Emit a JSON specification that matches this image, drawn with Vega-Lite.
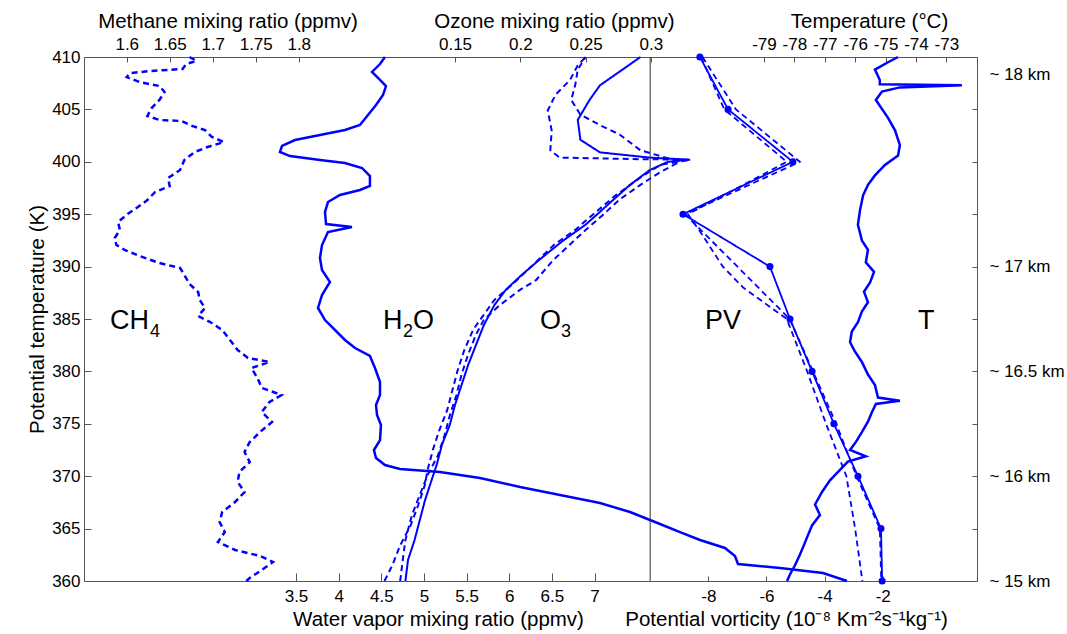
{
  "$schema": "https://vega.github.io/schema/vega-lite/v6.json",
  "width": 893,
  "height": 524,
  "autosize": {"type": "none"},
  "padding": {"left": 84, "top": 57, "right": 90, "bottom": 53},
  "background": "white",
  "config": {
    "font": "Liberation Sans",
    "view": {"stroke": "#555555", "strokeWidth": 1},
    "axis": {
      "domain": false, "grid": false, "tickColor": "#555555", "tickWidth": 1,
      "labelColor": "#000000", "titleColor": "#000000",
      "labelFont": "Liberation Sans", "titleFont": "Liberation Sans",
      "labelFontSize": 17, "titleFontSize": 20.5, "titleFontWeight": "normal",
      "labelFlush": false, "labelOverlap": false,
      "labelExpr": "'' + datum.value"
    }
  },
  "datasets": {
    "ch4": [
      {"theta": 410.0, "ch4": 1.673}, {"theta": 409.62, "ch4": 1.681}, {"theta": 409.33, "ch4": 1.669}, {"theta": 408.85, "ch4": 1.665},
      {"theta": 408.66, "ch4": 1.627}, {"theta": 408.47, "ch4": 1.604}, {"theta": 408.09, "ch4": 1.6}, {"theta": 407.61, "ch4": 1.615},
      {"theta": 407.23, "ch4": 1.638}, {"theta": 406.66, "ch4": 1.644}, {"theta": 405.9, "ch4": 1.638}, {"theta": 405.13, "ch4": 1.629},
      {"theta": 404.37, "ch4": 1.624}, {"theta": 403.99, "ch4": 1.638}, {"theta": 403.89, "ch4": 1.664}, {"theta": 403.42, "ch4": 1.676},
      {"theta": 403.03, "ch4": 1.691}, {"theta": 402.37, "ch4": 1.699}, {"theta": 401.89, "ch4": 1.713}, {"theta": 401.41, "ch4": 1.694},
      {"theta": 400.94, "ch4": 1.679}, {"theta": 400.17, "ch4": 1.667}, {"theta": 399.22, "ch4": 1.662}, {"theta": 398.45, "ch4": 1.648},
      {"theta": 397.69, "ch4": 1.65}, {"theta": 397.12, "ch4": 1.633}, {"theta": 396.35, "ch4": 1.624}, {"theta": 395.69, "ch4": 1.613},
      {"theta": 395.02, "ch4": 1.601}, {"theta": 394.26, "ch4": 1.59}, {"theta": 393.49, "ch4": 1.592}, {"theta": 392.73, "ch4": 1.586},
      {"theta": 392.06, "ch4": 1.588}, {"theta": 391.58, "ch4": 1.598}, {"theta": 391.01, "ch4": 1.615}, {"theta": 390.34, "ch4": 1.638},
      {"theta": 389.87, "ch4": 1.662}, {"theta": 389.2, "ch4": 1.667}, {"theta": 388.34, "ch4": 1.673}, {"theta": 387.58, "ch4": 1.683},
      {"theta": 386.81, "ch4": 1.685}, {"theta": 386.05, "ch4": 1.691}, {"theta": 385.29, "ch4": 1.683}, {"theta": 384.71, "ch4": 1.697},
      {"theta": 383.95, "ch4": 1.711}, {"theta": 383.0, "ch4": 1.72}, {"theta": 382.04, "ch4": 1.729}, {"theta": 381.28, "ch4": 1.741},
      {"theta": 380.9, "ch4": 1.766}, {"theta": 380.32, "ch4": 1.745}, {"theta": 379.37, "ch4": 1.752}, {"theta": 378.42, "ch4": 1.757},
      {"theta": 377.75, "ch4": 1.78}, {"theta": 377.08, "ch4": 1.766}, {"theta": 376.13, "ch4": 1.757}, {"theta": 375.17, "ch4": 1.769},
      {"theta": 374.22, "ch4": 1.755}, {"theta": 373.26, "ch4": 1.743}, {"theta": 372.31, "ch4": 1.737}, {"theta": 371.35, "ch4": 1.743},
      {"theta": 370.4, "ch4": 1.731}, {"theta": 369.45, "ch4": 1.729}, {"theta": 368.49, "ch4": 1.737}, {"theta": 367.54, "ch4": 1.726},
      {"theta": 366.58, "ch4": 1.711}, {"theta": 365.63, "ch4": 1.708}, {"theta": 364.67, "ch4": 1.714}, {"theta": 363.72, "ch4": 1.706},
      {"theta": 362.96, "ch4": 1.726}, {"theta": 362.39, "ch4": 1.755}, {"theta": 361.81, "ch4": 1.77}, {"theta": 361.05, "ch4": 1.757},
      {"theta": 360.29, "ch4": 1.743}, {"theta": 360.0, "ch4": 1.739}
    ],
    "h2o": [
      {"theta": 410.0, "h2o": 4.543}, {"theta": 409.33, "h2o": 4.485}, {"theta": 408.57, "h2o": 4.391}, {"theta": 407.81, "h2o": 4.485},
      {"theta": 407.23, "h2o": 4.555}, {"theta": 406.37, "h2o": 4.52}, {"theta": 405.42, "h2o": 4.438}, {"theta": 404.47, "h2o": 4.344},
      {"theta": 403.51, "h2o": 4.25}, {"theta": 403.03, "h2o": 4.074}, {"theta": 402.56, "h2o": 3.781}, {"theta": 402.08, "h2o": 3.488},
      {"theta": 401.51, "h2o": 3.336}, {"theta": 400.94, "h2o": 3.312}, {"theta": 400.55, "h2o": 3.43}, {"theta": 400.17, "h2o": 3.781},
      {"theta": 399.89, "h2o": 4.074}, {"theta": 399.41, "h2o": 4.274}, {"theta": 398.64, "h2o": 4.367}, {"theta": 397.69, "h2o": 4.367},
      {"theta": 397.31, "h2o": 4.25}, {"theta": 396.83, "h2o": 4.016}, {"theta": 396.16, "h2o": 3.875}, {"theta": 395.21, "h2o": 3.84},
      {"theta": 394.06, "h2o": 3.852}, {"theta": 393.78, "h2o": 4.156}, {"theta": 393.3, "h2o": 3.875}, {"theta": 392.06, "h2o": 3.805},
      {"theta": 390.82, "h2o": 3.781}, {"theta": 389.68, "h2o": 3.805}, {"theta": 388.53, "h2o": 3.898}, {"theta": 387.29, "h2o": 3.805},
      {"theta": 386.05, "h2o": 3.758}, {"theta": 384.9, "h2o": 3.84}, {"theta": 383.95, "h2o": 3.957}, {"theta": 383.0, "h2o": 4.074},
      {"theta": 382.23, "h2o": 4.192}, {"theta": 381.47, "h2o": 4.367}, {"theta": 380.32, "h2o": 4.426}, {"theta": 378.99, "h2o": 4.485},
      {"theta": 377.75, "h2o": 4.485}, {"theta": 376.79, "h2o": 4.438}, {"theta": 375.84, "h2o": 4.45}, {"theta": 374.89, "h2o": 4.496},
      {"theta": 373.45, "h2o": 4.485}, {"theta": 372.5, "h2o": 4.414}, {"theta": 371.74, "h2o": 4.438}, {"theta": 371.07, "h2o": 4.543},
      {"theta": 370.69, "h2o": 4.719}, {"theta": 370.4, "h2o": 5.188}, {"theta": 369.83, "h2o": 5.657}, {"theta": 368.97, "h2o": 6.126},
      {"theta": 368.21, "h2o": 6.595}, {"theta": 367.44, "h2o": 7.064}, {"theta": 366.58, "h2o": 7.416}, {"theta": 365.44, "h2o": 7.767},
      {"theta": 364.67, "h2o": 8.002}, {"theta": 363.91, "h2o": 8.236}, {"theta": 363.15, "h2o": 8.529}, {"theta": 362.39, "h2o": 8.646},
      {"theta": 361.62, "h2o": 8.682}, {"theta": 361.24, "h2o": 9.174}, {"theta": 360.76, "h2o": 9.678}, {"theta": 360.0, "h2o": 9.959}
    ],
    "o3": [
      {"run": "a", "theta": 360.0, "o3": 0.112}, {"run": "a", "theta": 362.0, "o3": 0.114}, {"run": "a", "theta": 363.9, "o3": 0.119},
      {"run": "a", "theta": 365.8, "o3": 0.123}, {"run": "a", "theta": 367.7, "o3": 0.127}, {"run": "a", "theta": 369.6, "o3": 0.132},
      {"run": "a", "theta": 371.1, "o3": 0.136}, {"run": "a", "theta": 373.0, "o3": 0.14}, {"run": "a", "theta": 374.9, "o3": 0.146},
      {"run": "a", "theta": 376.8, "o3": 0.15}, {"run": "a", "theta": 378.7, "o3": 0.155}, {"run": "a", "theta": 380.6, "o3": 0.16},
      {"run": "a", "theta": 382.5, "o3": 0.166}, {"run": "a", "theta": 384.4, "o3": 0.172}, {"run": "a", "theta": 386.3, "o3": 0.18},
      {"run": "a", "theta": 387.8, "o3": 0.189}, {"run": "a", "theta": 389.2, "o3": 0.201}, {"run": "a", "theta": 390.8, "o3": 0.216},
      {"run": "a", "theta": 392.5, "o3": 0.233}, {"run": "a", "theta": 394.0, "o3": 0.25}, {"run": "a", "theta": 395.9, "o3": 0.267},
      {"run": "a", "theta": 397.8, "o3": 0.284}, {"run": "a", "theta": 399.2, "o3": 0.299}, {"run": "a", "theta": 400.0, "o3": 0.313},
      {"run": "a", "theta": 400.2, "o3": 0.33}, {"run": "a", "theta": 400.4, "o3": 0.299}, {"run": "a", "theta": 400.9, "o3": 0.261},
      {"run": "a", "theta": 402.1, "o3": 0.246}, {"run": "a", "theta": 404.0, "o3": 0.244}, {"run": "a", "theta": 405.9, "o3": 0.253},
      {"run": "a", "theta": 407.3, "o3": 0.261}, {"run": "a", "theta": 408.6, "o3": 0.276}, {"run": "a", "theta": 410.0, "o3": 0.292},
      {"run": "b", "theta": 360.0, "o3": 0.096}, {"run": "b", "theta": 361.5, "o3": 0.102}, {"run": "b", "theta": 363.4, "o3": 0.108},
      {"run": "b", "theta": 365.3, "o3": 0.116}, {"run": "b", "theta": 367.3, "o3": 0.122}, {"run": "b", "theta": 369.2, "o3": 0.127},
      {"run": "b", "theta": 370.6, "o3": 0.129}, {"run": "b", "theta": 372.5, "o3": 0.133}, {"run": "b", "theta": 374.4, "o3": 0.138},
      {"run": "b", "theta": 376.3, "o3": 0.144}, {"run": "b", "theta": 378.2, "o3": 0.148}, {"run": "b", "theta": 380.1, "o3": 0.152},
      {"run": "b", "theta": 382.0, "o3": 0.157}, {"run": "b", "theta": 384.0, "o3": 0.164}, {"run": "b", "theta": 385.4, "o3": 0.172},
      {"run": "b", "theta": 386.8, "o3": 0.18}, {"run": "b", "theta": 388.2, "o3": 0.193}, {"run": "b", "theta": 390.2, "o3": 0.21},
      {"run": "b", "theta": 392.1, "o3": 0.226}, {"run": "b", "theta": 393.5, "o3": 0.242}, {"run": "b", "theta": 394.9, "o3": 0.255},
      {"run": "b", "theta": 396.8, "o3": 0.273}, {"run": "b", "theta": 398.5, "o3": 0.292}, {"run": "b", "theta": 399.7, "o3": 0.307},
      {"run": "b", "theta": 400.2, "o3": 0.33}, {"run": "b", "theta": 400.25, "o3": 0.292}, {"run": "b", "theta": 400.4, "o3": 0.23},
      {"run": "b", "theta": 401.1, "o3": 0.223}, {"run": "b", "theta": 403.0, "o3": 0.224}, {"run": "b", "theta": 404.9, "o3": 0.221},
      {"run": "b", "theta": 406.4, "o3": 0.227}, {"run": "b", "theta": 407.8, "o3": 0.238}, {"run": "b", "theta": 409.2, "o3": 0.244},
      {"run": "b", "theta": 410.0, "o3": 0.25},
      {"run": "c", "theta": 360.0, "o3": 0.108}, {"run": "c", "theta": 362.0, "o3": 0.11}, {"run": "c", "theta": 363.9, "o3": 0.112},
      {"run": "c", "theta": 366.3, "o3": 0.117}, {"run": "c", "theta": 368.2, "o3": 0.123}, {"run": "c", "theta": 370.1, "o3": 0.129},
      {"run": "c", "theta": 372.0, "o3": 0.137}, {"run": "c", "theta": 373.9, "o3": 0.142}, {"run": "c", "theta": 375.8, "o3": 0.146},
      {"run": "c", "theta": 377.7, "o3": 0.151}, {"run": "c", "theta": 379.7, "o3": 0.155}, {"run": "c", "theta": 381.6, "o3": 0.16},
      {"run": "c", "theta": 383.5, "o3": 0.166}, {"run": "c", "theta": 384.9, "o3": 0.172}, {"run": "c", "theta": 386.3, "o3": 0.184},
      {"run": "c", "theta": 387.8, "o3": 0.2}, {"run": "c", "theta": 388.7, "o3": 0.212}, {"run": "c", "theta": 390.6, "o3": 0.225},
      {"run": "c", "theta": 392.1, "o3": 0.238}, {"run": "c", "theta": 393.5, "o3": 0.25}, {"run": "c", "theta": 394.9, "o3": 0.263},
      {"run": "c", "theta": 396.4, "o3": 0.276}, {"run": "c", "theta": 397.8, "o3": 0.292}, {"run": "c", "theta": 399.0, "o3": 0.307},
      {"run": "c", "theta": 400.0, "o3": 0.322}, {"run": "c", "theta": 401.1, "o3": 0.292}, {"run": "c", "theta": 402.6, "o3": 0.276},
      {"run": "c", "theta": 403.5, "o3": 0.261}, {"run": "c", "theta": 404.5, "o3": 0.246}, {"run": "c", "theta": 405.9, "o3": 0.239},
      {"run": "c", "theta": 407.3, "o3": 0.242}, {"run": "c", "theta": 408.8, "o3": 0.244}, {"run": "c", "theta": 410.0, "o3": 0.25}
    ],
    "temp": [
      {"theta": 410.0, "t": -74.59}, {"theta": 409.5, "t": -74.92}, {"theta": 408.8, "t": -75.35}, {"theta": 407.8, "t": -75.19},
      {"theta": 407.4, "t": -75.19}, {"theta": 407.3, "t": -72.49}, {"theta": 407.1, "t": -74.53}, {"theta": 406.7, "t": -75.12},
      {"theta": 405.9, "t": -75.32}, {"theta": 404.2, "t": -74.92}, {"theta": 403.0, "t": -74.69}, {"theta": 401.6, "t": -74.53},
      {"theta": 400.6, "t": -74.59}, {"theta": 399.7, "t": -75.02}, {"theta": 398.7, "t": -75.35}, {"theta": 397.8, "t": -75.58},
      {"theta": 396.8, "t": -75.74}, {"theta": 395.4, "t": -75.84}, {"theta": 394.0, "t": -75.91}, {"theta": 392.5, "t": -75.78},
      {"theta": 391.6, "t": -75.58}, {"theta": 390.4, "t": -75.65}, {"theta": 389.5, "t": -75.38}, {"theta": 388.5, "t": -75.51},
      {"theta": 387.6, "t": -75.71}, {"theta": 386.6, "t": -75.58}, {"theta": 385.7, "t": -75.78}, {"theta": 384.7, "t": -75.91},
      {"theta": 383.8, "t": -76.11}, {"theta": 382.8, "t": -76.17}, {"theta": 381.9, "t": -76.01}, {"theta": 380.9, "t": -75.78},
      {"theta": 379.7, "t": -75.58}, {"theta": 378.7, "t": -75.35}, {"theta": 377.5, "t": -75.25}, {"theta": 377.2, "t": -74.53},
      {"theta": 376.9, "t": -75.32}, {"theta": 376.1, "t": -75.45}, {"theta": 375.2, "t": -75.58}, {"theta": 374.2, "t": -75.78},
      {"theta": 373.3, "t": -75.97}, {"theta": 372.5, "t": -76.17}, {"theta": 371.9, "t": -75.65}, {"theta": 371.4, "t": -76.24},
      {"theta": 370.6, "t": -76.5}, {"theta": 369.6, "t": -76.83}, {"theta": 368.5, "t": -77.09}, {"theta": 367.3, "t": -77.32},
      {"theta": 366.3, "t": -77.16}, {"theta": 365.3, "t": -77.42}, {"theta": 364.4, "t": -77.55}, {"theta": 363.4, "t": -77.69},
      {"theta": 362.5, "t": -77.82}, {"theta": 361.5, "t": -77.98}, {"theta": 360.6, "t": -78.15}, {"theta": 360.0, "t": -78.24}
    ],
    "pv": [
      {"run": "p1", "theta": 410, "pv": -8.29}, {"run": "p1", "theta": 405, "pv": -7.32}, {"run": "p1", "theta": 400, "pv": -5.09},
      {"run": "p1", "theta": 395, "pv": -8.87}, {"run": "p1", "theta": 390, "pv": -5.88}, {"run": "p1", "theta": 385, "pv": -5.19},
      {"run": "p1", "theta": 380, "pv": -4.43}, {"run": "p1", "theta": 375, "pv": -3.68}, {"run": "p1", "theta": 370, "pv": -2.85},
      {"run": "p1", "theta": 365, "pv": -2.06}, {"run": "p1", "theta": 360, "pv": -2.02},
      {"run": "p2", "theta": 410, "pv": -8.2}, {"run": "p2", "theta": 405, "pv": -7.05}, {"run": "p2", "theta": 400, "pv": -4.85},
      {"run": "p2", "theta": 395, "pv": -8.8}, {"run": "p2", "theta": 385, "pv": -5.2}, {"run": "p2", "theta": 380, "pv": -4.4},
      {"run": "p2", "theta": 375, "pv": -3.6}, {"run": "p2", "theta": 370, "pv": -2.9}, {"run": "p2", "theta": 365, "pv": -2.1},
      {"run": "p2", "theta": 360, "pv": -2.05},
      {"run": "p3", "theta": 410, "pv": -8.25}, {"run": "p3", "theta": 405, "pv": -7.45}, {"run": "p3", "theta": 400, "pv": -5.3},
      {"run": "p3", "theta": 395, "pv": -8.7}, {"run": "p3", "theta": 393, "pv": -8.2}, {"run": "p3", "theta": 390, "pv": -7.5},
      {"run": "p3", "theta": 388, "pv": -6.8}, {"run": "p3", "theta": 385, "pv": -5.3}, {"run": "p3", "theta": 380, "pv": -4.6},
      {"run": "p3", "theta": 375, "pv": -3.95}, {"run": "p3", "theta": 370, "pv": -3.25}, {"run": "p3", "theta": 365, "pv": -2.95},
      {"run": "p3", "theta": 360, "pv": -2.7}
    ],
    "labels": [
      {"txt": "CH", "pos": 1.319, "theta": 384.05},
      {"txt": "H", "pos": 4.52, "theta": 384.05},
      {"txt": "O", "pos": 4.872, "theta": 384.05},
      {"txt": "O", "pos": 6.36, "theta": 384.05},
      {"txt": "PV", "pos": 8.295, "theta": 384.05},
      {"txt": "T", "pos": 10.792, "theta": 384.05}
    ],
    "subs": [
      {"txt": "4", "pos": 1.788, "theta": 383.3},
      {"txt": "2", "pos": 4.754, "theta": 383.3},
      {"txt": "3", "pos": 6.607, "theta": 383.3}
    ]
  },
  "layer": [
    {
      "data": {"name": "ch4"},
      "mark": {"type": "line", "color": "#0000ff", "strokeWidth": 2.5, "strokeDash": [6, 4]},
      "encoding": {
        "x": {"field": "ch4", "type": "quantitative", "scale": {"domain": [1.5503, 2.5887], "nice": false, "zero": false},
          "axis": {"orient": "top", "values": [1.6, 1.65, 1.7, 1.75, 1.8], "title": "Methane mixing ratio (ppmv)", "tickSize": -5, "labelPadding": 9, "titleX": 143.5, "titlePadding": 4}},
        "y": {"field": "theta", "type": "quantitative", "scale": {"domain": [360, 410], "nice": false, "zero": false},
          "axis": {"orient": "left", "values": [360, 365, 370, 375, 380, 385, 390, 395, 400, 405, 410], "title": "Potential temperature (K)", "tickSize": -7, "labelPadding": 11, "titlePadding": 4}},
        "order": {"value": null}
      }
    },
    {
      "data": {"name": "h2o"},
      "mark": {"type": "line", "color": "#0000ff", "strokeWidth": 2.5},
      "encoding": {
        "x": {"field": "h2o", "type": "quantitative", "scale": {"domain": [1.0147, 11.4837], "nice": false, "zero": false},
          "axis": {"orient": "bottom", "values": [3.5, 4, 4.5, 5, 5.5, 6, 6.5, 7], "title": "Water vapor mixing ratio (ppmv)", "tickSize": -8, "labelPadding": 15, "titleX": 354, "titlePadding": 5}},
        "y": {"field": "theta", "type": "quantitative", "scale": {"domain": [360, 410], "nice": false, "zero": false}, "axis": null},
        "order": {"value": null}
      }
    },
    {
      "data": {"name": "o3"},
      "mark": {"type": "line", "color": "#0000ff", "strokeWidth": 2},
      "encoding": {
        "x": {"field": "o3", "type": "quantitative", "scale": {"domain": [-0.1341, 0.5497], "nice": false, "zero": false},
          "axis": {"orient": "top", "values": [0.15, 0.2, 0.25, 0.3], "title": "Ozone mixing ratio (ppmv)", "tickSize": -5, "labelPadding": 9, "titleX": 470, "titlePadding": 4}},
        "y": {"field": "theta", "type": "quantitative", "scale": {"domain": [360, 410], "nice": false, "zero": false}, "axis": null},
        "strokeDash": {"field": "run", "type": "nominal", "scale": {"domain": ["a", "b", "c"], "range": [[1, 0], [6, 4], [6, 4]]}, "legend": null},
        "order": {"value": null}
      }
    },
    {
      "data": {"name": "temp"},
      "mark": {"type": "line", "color": "#0000ff", "strokeWidth": 2.5},
      "encoding": {
        "x": {"field": "t", "type": "quantitative", "scale": {"domain": [-101.368, -71.993], "nice": false, "zero": false},
          "axis": {"orient": "top", "values": [-79, -78, -77, -76, -75, -74, -73], "title": "Temperature (°C)", "tickSize": -5, "labelPadding": 9, "titleX": 785, "titlePadding": 4}},
        "y": {"field": "theta", "type": "quantitative", "scale": {"domain": [360, 410], "nice": false, "zero": false},
          "axis": {"orient": "right", "values": [360, 365, 370, 375, 380, 385, 390, 395, 400, 405, 410], "title": null, "tickSize": -5, "labelPadding": 17,
            "labelExpr": "datum.value == 360 ? '~ 15 km' : datum.value == 370 ? '~ 16 km' : datum.value == 380 ? '~ 16.5 km' : datum.value == 390 ? '~ 17 km' : ''"}},
        "order": {"value": null}
      }
    },
    {
      "data": {"name": "pv"},
      "mark": {"type": "line", "color": "#0000ff", "strokeWidth": 1.8},
      "encoding": {
        "x": {"field": "pv", "type": "quantitative", "scale": {"domain": [-29.476, 1.243], "nice": false, "zero": false},
          "axis": {"orient": "bottom", "values": [-8, -6, -4, -2], "title": "Potential vorticity (10⁻⁸ Km⁻²s⁻¹kg⁻¹)", "tickSize": -5, "labelPadding": 12, "titleX": 702, "titleAlign": "center", "titlePadding": 5}},
        "y": {"field": "theta", "type": "quantitative", "scale": {"domain": [360, 410], "nice": false, "zero": false}, "axis": null},
        "strokeDash": {"field": "run", "type": "nominal", "scale": {"domain": ["p1", "p2", "p3"], "range": [[1, 0], [1, 0], [6, 4]]}, "legend": null},
        "order": {"value": null}
      }
    },
    {
      "data": {"name": "pv"},
      "transform": [{"filter": "datum.run == 'p1'"}],
      "mark": {"type": "point", "filled": true, "color": "#0000ff", "size": 50, "opacity": 1},
      "encoding": {
        "x": {"field": "pv", "type": "quantitative", "scale": {"domain": [-29.476, 1.243], "nice": false, "zero": false}, "axis": null},
        "y": {"field": "theta", "type": "quantitative", "scale": {"domain": [360, 410], "nice": false, "zero": false}, "axis": null}
      }
    },
    {
      "data": {"values": [{}]},
      "mark": {"type": "rule", "color": "#333333", "strokeWidth": 1},
      "encoding": {
        "x": {"datum": -10, "type": "quantitative", "scale": {"domain": [-29.476, 1.243], "nice": false, "zero": false}, "axis": null}
      }
    },
    {
      "data": {"name": "labels"},
      "mark": {"type": "text", "font": "Liberation Sans", "fontSize": 27, "align": "left", "baseline": "alphabetic", "color": "#000000"},
      "encoding": {
        "x": {"field": "pos", "type": "quantitative", "scale": {"domain": [1.0147, 11.4837], "nice": false, "zero": false}, "axis": null},
        "y": {"field": "theta", "type": "quantitative", "scale": {"domain": [360, 410], "nice": false, "zero": false},
          "axis": {"orient": "right", "values": [408.3], "ticks": false, "labelPadding": 12, "title": null, "labelExpr": "'~ 18 km'"}},
        "text": {"field": "txt"}
      }
    },
    {
      "data": {"name": "subs"},
      "mark": {"type": "text", "font": "Liberation Sans", "fontSize": 18, "align": "left", "baseline": "alphabetic", "color": "#000000"},
      "encoding": {
        "x": {"field": "pos", "type": "quantitative", "scale": {"domain": [1.0147, 11.4837], "nice": false, "zero": false}, "axis": null},
        "y": {"field": "theta", "type": "quantitative", "scale": {"domain": [360, 410], "nice": false, "zero": false}, "axis": null},
        "text": {"field": "txt"}
      }
    }
  ],
  "resolve": {"scale": {"x": "independent", "y": "independent"}, "axis": {"x": "independent", "y": "independent"}}
}
